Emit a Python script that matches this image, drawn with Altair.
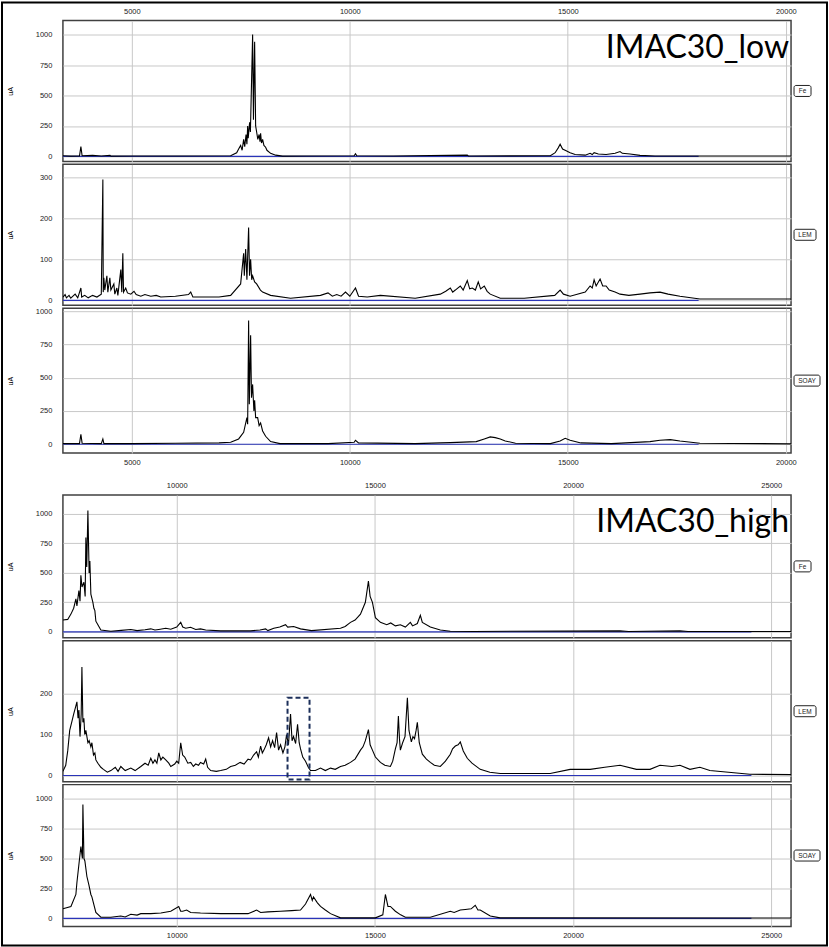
import altair as alt
import pandas as pd

# ---------------- data (m/z, intensity uA) ----------------
LOW_X_DOMAIN = [3420, 20120]
HIGH_X_DOMAIN = [7129, 25500]
LOW_X_TICKS = [5000, 10000, 15000, 20000]
HIGH_X_TICKS = [10000, 15000, 20000, 25000]
TICKS_1000 = [0, 250, 500, 750, 1000]
TICKS_300 = [0, 100, 200, 300]
TICKS_200 = [0, 100, 200]

LOW_FE = [(3420, 5), (3600, 2), (3800, 3), (3832, 80), (3860, 5), (4100, 8), (4300, 3), (4500, 8),
          (4520, 2), (5000, 3), (6000, 3), (7267, 5), (7405, 30), (7450, 60), (7496, 90), (7530, 50),
          (7565, 140), (7590, 80), (7620, 180), (7640, 100), (7657, 250), (7670, 150), (7702, 280),
          (7720, 200), (7771, 1000), (7790, 300), (7817, 940), (7840, 250), (7863, 200), (7890, 140),
          (7920, 180), (7940, 120), (7954, 190), (7975, 110), (8000, 140), (8030, 90), (8069, 75),
          (8100, 50), (8183, 25), (8300, 10), (8458, 2), (9000, 3), (10100, 5), (10130, 22), (10160, 5),
          (11000, 3), (12694, 10), (12720, 3), (14600, 5), (14710, 30), (14780, 70), (14824, 100),
          (14880, 60), (14939, 50), (15053, 30), (15168, 15), (15400, 10), (15511, 25), (15560, 15),
          (15603, 30), (15700, 20), (15878, 15), (16084, 25), (16198, 40), (16250, 25), (16427, 20),
          (16656, 8), (17000, 3), (20120, 3)]

LOW_LEM = [(3420, 8), (3470, 14), (3500, 6), (3560, 12), (3600, 5), (3650, 10), (3700, 15), (3760, 6),
           (3832, 30), (3850, 8), (3920, 12), (4000, 6), (4100, 12), (4200, 8), (4300, 15), (4336, 295),
           (4345, 20), (4359, 55), (4380, 25), (4428, 60), (4450, 20), (4496, 55), (4520, 25), (4588, 40),
           (4610, 15), (4657, 30), (4680, 12), (4748, 75), (4770, 20), (4794, 115), (4810, 20), (4860, 30),
           (4900, 18), (4977, 15), (5050, 22), (5100, 14), (5206, 10), (5300, 14), (5435, 10), (5560, 12),
           (5664, 8), (6000, 10), (6300, 14), (6351, 20), (6400, 8), (7000, 8), (7267, 12), (7496, 40),
           (7565, 115), (7580, 60), (7611, 125), (7640, 50), (7679, 178), (7700, 60), (7725, 100),
           (7750, 50), (7771, 60), (7817, 45), (7863, 40), (7950, 25), (8000, 20), (8183, 12), (8641, 5),
           (9328, 12), (9500, 18), (9600, 10), (9700, 14), (9800, 10), (9901, 20), (10000, 10),
           (10130, 30), (10200, 10), (10400, 8), (10702, 12), (11500, 5), (12076, 15), (12200, 22),
           (12305, 30), (12360, 20), (12420, 25), (12534, 35), (12600, 25), (12694, 48), (12750, 28),
           (12809, 30), (12880, 25), (12946, 45), (13000, 28), (13084, 35), (13150, 22), (13221, 15),
           (13450, 5), (14000, 5), (14700, 12), (14824, 25), (14900, 15), (15053, 10), (15400, 20),
           (15511, 35), (15560, 30), (15603, 50), (15650, 35), (15740, 52), (15800, 35), (15878, 35),
           (15950, 25), (16084, 20), (16198, 15), (16400, 12), (16656, 15), (16885, 18), (17114, 20),
           (17300, 15), (17572, 10), (18030, 3), (20120, 3)]

LOW_SOAY = [(3420, 5), (3800, 5), (3832, 75), (3860, 8), (4300, 5), (4336, 40), (4360, 5), (5000, 5),
            (6000, 8), (7000, 10), (7267, 15), (7450, 40), (7565, 90), (7640, 200), (7657, 150),
            (7679, 930), (7695, 300), (7725, 820), (7745, 350), (7771, 450), (7800, 250), (7817, 330),
            (7840, 200), (7886, 200), (7920, 140), (7954, 160), (8000, 100), (8069, 60), (8183, 20),
            (8400, 5), (9500, 5), (10100, 15), (10130, 30), (10200, 10), (11500, 5), (12076, 10),
            (12305, 12), (12900, 20), (13084, 40), (13221, 55), (13336, 50), (13450, 40), (13565, 25),
            (13800, 8), (14600, 5), (14824, 25), (14939, 45), (15053, 30), (15300, 10), (16000, 5),
            (16885, 20), (17114, 30), (17350, 35), (17572, 25), (18030, 8), (20120, 3)]

HIGH_FE = [(7129, 100), (7250, 105), (7331, 150), (7400, 200), (7456, 280), (7482, 220), (7532, 350),
           (7560, 260), (7582, 480), (7610, 380), (7658, 420), (7690, 300), (7708, 800), (7730, 550),
           (7759, 1030), (7790, 500), (7809, 600), (7834, 320), (7885, 250), (7910, 200), (7935, 180),
           (7960, 90), (8011, 60), (8086, 15), (8338, 5), (8600, 12), (8842, 20), (9000, 10), (9200, 18),
           (9346, 25), (9450, 15), (9547, 20), (9723, 30), (9850, 22), (10000, 40), (10101, 80),
           (10152, 40), (10227, 30), (10350, 38), (10479, 20), (10600, 25), (10731, 15), (11109, 8),
           (11865, 8), (12100, 15), (12243, 25), (12300, 10), (12450, 30), (12600, 40), (12746, 60),
           (12800, 40), (12950, 45), (13124, 25), (13400, 10), (14132, 30), (14250, 45), (14384, 80),
           (14500, 100), (14636, 150), (14760, 250), (14837, 430), (14880, 300), (14938, 250),
           (15013, 120), (15139, 80), (15300, 60), (15400, 75), (15517, 50), (15643, 60), (15769, 40),
           (15895, 80), (15950, 50), (16071, 70), (16147, 140), (16197, 80), (16399, 40), (16651, 15),
           (16903, 5), (17500, 3), (21185, 8), (21400, 3), (22697, 8), (22900, 3), (25500, 3)]

HIGH_LEM = [(7129, 10), (7200, 25), (7250, 60), (7300, 110), (7350, 130), (7400, 150), (7456, 170),
            (7482, 180), (7510, 140), (7532, 160), (7560, 95), (7590, 150), (7608, 265), (7633, 130),
            (7658, 140), (7680, 100), (7708, 110), (7734, 95), (7760, 80), (7790, 85), (7834, 70),
            (7860, 80), (7900, 50), (7935, 55), (7960, 38), (8011, 30), (8086, 20), (8150, 15), (8250, 8),
            (8338, 12), (8450, 20), (8520, 10), (8590, 22), (8700, 12), (8842, 18), (8950, 12), (9094, 22),
            (9200, 30), (9280, 25), (9346, 42), (9400, 30), (9450, 38), (9500, 30), (9547, 55), (9600, 38),
            (9650, 45), (9723, 38), (9800, 30), (9850, 22), (9950, 28), (10000, 35), (10050, 30),
            (10101, 80), (10150, 50), (10202, 45), (10280, 30), (10353, 32), (10420, 22), (10479, 28),
            (10550, 25), (10600, 32), (10680, 28), (10731, 40), (10780, 20), (10857, 12), (11000, 10),
            (11109, 12), (11250, 15), (11361, 22), (11480, 25), (11600, 32), (11700, 28), (11800, 40),
            (11865, 38), (11940, 50), (12016, 58), (12060, 45), (12117, 72), (12160, 55), (12200, 62),
            (12260, 75), (12318, 92), (12370, 70), (12419, 85), (12470, 68), (12520, 105), (12570, 62),
            (12620, 75), (12680, 55), (12730, 70), (12772, 100), (12820, 75), (12872, 150), (12910, 85),
            (12948, 95), (13000, 78), (13049, 125), (13090, 80), (13124, 65), (13180, 45), (13250, 35),
            (13320, 20), (13376, 12), (13500, 12), (13628, 18), (13750, 12), (13880, 18), (14000, 15),
            (14132, 22), (14250, 25), (14384, 32), (14500, 40), (14636, 62), (14700, 70), (14760, 85),
            (14837, 112), (14880, 75), (14938, 62), (15013, 45), (15139, 32), (15250, 25), (15391, 22),
            (15450, 35), (15517, 65), (15560, 80), (15593, 145), (15620, 90), (15643, 62), (15700, 80),
            (15760, 95), (15820, 190), (15860, 110), (15920, 82), (15960, 95), (16000, 90), (16040, 110),
            (16071, 130), (16120, 80), (16197, 52), (16300, 40), (16399, 32), (16500, 25), (16651, 22),
            (16780, 35), (16903, 52), (16960, 65), (17029, 72), (17100, 75), (17155, 82), (17230, 60),
            (17331, 42), (17450, 30), (17658, 15), (17900, 8), (18162, 5), (19422, 5), (19926, 15),
            (20430, 15), (20800, 20), (21185, 25), (21600, 15), (21941, 15), (22193, 25), (22500, 22),
            (22697, 25), (22949, 15), (23200, 20), (23452, 12), (24460, 3), (25500, 2)]

HIGH_SOAY = [(7129, 80), (7331, 100), (7456, 200), (7482, 300), (7532, 450), (7582, 600), (7620, 500),
             (7633, 950), (7660, 500), (7683, 480), (7734, 350), (7784, 280), (7834, 200), (7860, 180),
             (7960, 50), (8086, 10), (8338, 10), (8590, 20), (8700, 12), (8842, 35), (9000, 28),
             (9094, 40), (9346, 40), (9600, 45), (9850, 60), (10051, 100), (10100, 60), (10152, 60),
             (10250, 70), (10353, 50), (10600, 45), (11109, 40), (11800, 40), (12016, 70), (12117, 50),
             (12300, 55), (12620, 60), (12900, 65), (13124, 70), (13250, 120), (13376, 200), (13420, 150),
             (13451, 180), (13550, 130), (13628, 100), (13750, 70), (13880, 40), (14132, 5), (15013, 5),
             (15200, 30), (15265, 200), (15330, 100), (15391, 100), (15517, 60), (15650, 30), (15769, 10),
             (16399, 10), (16903, 60), (17000, 50), (17155, 70), (17281, 75), (17430, 80), (17532, 110),
             (17600, 70), (17658, 70), (17911, 20), (18162, 5), (25500, 3)]

SAMPLE_LABELS = ["Fe", "LEM", "SOAY"]
GROUP_TITLES = ["IMAC30_low", "IMAC30_high"]
LOW_BASE_END = 18000
HIGH_BASE_END = 24500
HIGHLIGHT_BOX = [(12796, 13351, -10, 190)]

PLOT_W = 729
LABEL_FONT = "Liberation Sans"


def panel(pairs, xdom, xticks, xmode, ydom, yticks, h, label, label_w, base_end,
          big=None, box=None, frame=False):
    df = pd.DataFrame(pairs, columns=["mz", "ua"])
    if xmode == "none":
        xaxis = alt.Axis(values=xticks, labels=False, title=None)
    else:
        xaxis = alt.Axis(values=xticks, orient=xmode, format="d", labelPadding=5, title=None)
    yaxis = alt.Axis(values=yticks, format="d", labelPadding=11, title="uA",
                     titleX=-52, titleY=h / 2, titleAngle=270, titleFontSize=7,
                     titleFontWeight="normal", titleAlign="center", titleBaseline="middle",
                     titleFont=LABEL_FONT)
    xs = alt.Scale(domain=xdom, nice=False, zero=False)
    ys = alt.Scale(domain=ydom, nice=False, zero=False)
    xenc = alt.X("mz:Q", scale=xs, axis=xaxis)
    yenc = alt.Y("ua:Q", scale=ys, axis=yaxis)

    base_df = pd.DataFrame({"mz": [xdom[0], base_end], "ua": [0, 0]})
    layers = [
        alt.Chart(base_df).mark_line(color="#2a34b8", strokeWidth=1.2, clip=True).encode(x=xenc, y=yenc),
        alt.Chart(df).mark_line(color="black", strokeWidth=1.1, clip=True).encode(x=xenc, y=yenc),
    ]
    if box is not None:
        bdf = pd.DataFrame(box, columns=["x1", "x2", "y1", "y2"])
        layers.append(
            alt.Chart(bdf).mark_rect(fill="white", fillOpacity=0, stroke="#1c2f5a",
                                     strokeWidth=2, strokeDash=[5, 3])
            .encode(x=alt.X("x1:Q", scale=xs, axis=xaxis), x2="x2:Q",
                    y=alt.Y("y1:Q", scale=ys, axis=yaxis), y2="y2:Q"))
    ldf = pd.DataFrame({"label": [label]})
    lx = PLOT_W + 3
    layers.append(
        alt.Chart(ldf).mark_rect(fill="white", stroke="#222", strokeWidth=1, cornerRadius=2)
        .encode(x=alt.value(lx), x2=alt.value(lx + label_w),
                y=alt.value(h / 2 - 5.5), y2=alt.value(h / 2 + 5.5)))
    layers.append(
        alt.Chart(ldf).mark_text(font=LABEL_FONT, fontSize=6.5, color="#222",
                                 align="center", baseline="middle")
        .encode(x=alt.value(lx + label_w / 2), y=alt.value(h / 2 + 0.5), text="label:N"))
    if big is not None:
        tdf = pd.DataFrame({"t": [big]})
        layers.append(
            alt.Chart(tdf).mark_text(font="Lato", fontSize=32, color="black",
                                     align="right", baseline="alphabetic")
            .encode(x=alt.value(PLOT_W - 2), y=alt.value(37), text="t:N"))
    if frame:
        fdf = pd.DataFrame({"f": [1]})
        layers.append(
            alt.Chart(fdf).mark_rect(fill="white", fillOpacity=0, stroke="black", strokeWidth=2)
            .encode(x=alt.value(-61), x2=alt.value(765), y=alt.value(-18), y2=alt.value(926)))
    return alt.layer(*layers).properties(width=PLOT_W, height=h)


a1 = panel(LOW_FE, LOW_X_DOMAIN, LOW_X_TICKS, "top", [-41, 1115], TICKS_1000, 141,
           SAMPLE_LABELS[0], 17, LOW_BASE_END, big=GROUP_TITLES[0], frame=True)
a2 = panel(LOW_LEM, LOW_X_DOMAIN, LOW_X_TICKS, "none", [-12, 332], TICKS_300, 141,
           SAMPLE_LABELS[1], 22, LOW_BASE_END)
a3 = panel(LOW_SOAY, LOW_X_DOMAIN, LOW_X_TICKS, "bottom", [-66, 1023], TICKS_1000, 145,
           SAMPLE_LABELS[2], 26, LOW_BASE_END)
spacer = (alt.Chart(pd.DataFrame({"s": [0]})).mark_point(opacity=0)
          .encode(x=alt.value(0), y=alt.value(0))
          .properties(width=PLOT_W, height=36, view=alt.ViewBackground(stroke="transparent")))
b1 = panel(HIGH_FE, HIGH_X_DOMAIN, HIGH_X_TICKS, "top", [-51, 1161], TICKS_1000, 143,
           SAMPLE_LABELS[0], 17, HIGH_BASE_END, big=GROUP_TITLES[1])
b2 = panel(HIGH_LEM, HIGH_X_DOMAIN, HIGH_X_TICKS, "none", [-15, 329], TICKS_200, 141,
           SAMPLE_LABELS[1], 22, HIGH_BASE_END, box=HIGHLIGHT_BOX)
b3 = panel(HIGH_SOAY, HIGH_X_DOMAIN, HIGH_X_TICKS, "bottom", [-67, 1117], TICKS_1000, 142,
           SAMPLE_LABELS[2], 26, HIGH_BASE_END)

chart = (
    alt.vconcat(a1, a2, a3, spacer, b1, b2, b3, spacing=3, bounds="flush")
    .properties(padding=0, background="white")
    .configure_view(stroke="#404040", strokeWidth=1.5)
    .configure_axis(gridColor="#c8c8c8", gridWidth=1, domain=False, ticks=False,
                    labelFont=LABEL_FONT, labelFontSize=7.5, labelColor="#222")
)

chart.save("out.html", embed_options={"renderer": "svg", "actions": False})
